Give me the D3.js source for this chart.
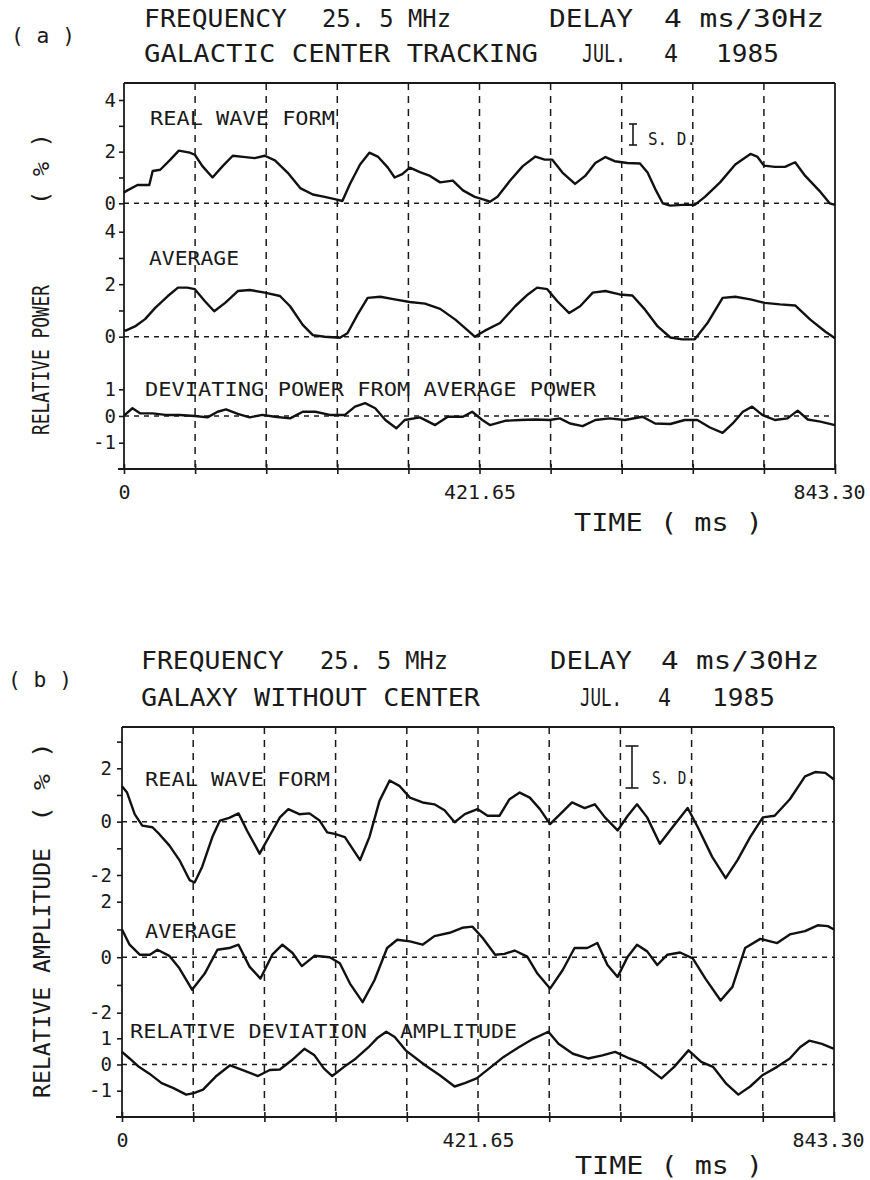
<!DOCTYPE html>
<html>
<head>
<meta charset="utf-8">
<script src="https://cdn.jsdelivr.net/npm/d3@7"></script>
<style>
  html, body { margin: 0; padding: 0; background: #fff; }
  svg { display: block; }
</style>
</head>
<body>
<svg id="chart" width="870" height="1180"></svg>
<script>
// ---------------------------------------------------------------
// Data: time in ms, values in %
// ---------------------------------------------------------------
const timeMaxMs = 843.30;
const timeDivisions = 10;
const timeTickLabels = ["0", "421.65", "843.30"];   // shown at divisions 0, 5, 10

// (a) Galactic center tracking — relative power (%)
const realPowerA = [[0,0.42],[4,0.5],[16,0.71],[30,0.71],[34,1.25],[43,1.3],[55,1.69],[65,2.04],[78,1.96],[84,1.88],[93,1.44],[105,1.0],[117,1.44],[129,1.84],[144,1.79],[155,1.75],[167,1.84],[179,1.66],[194,1.19],[209,0.59],[224,0.34],[238,0.25],[250,0.16],[259,0.09],[268,0.75],[280,1.5],[291,1.96],[301,1.81],[313,1.38],[321,1.0],[330,1.13],[339,1.38],[351,1.21],[363,1.06],[375,0.81],[390,0.88],[402,0.5],[416,0.25],[428,0.13],[434,0.06],[443,0.25],[458,0.88],[473,1.44],[488,1.81],[499,1.69],[508,1.69],[520,1.19],[535,0.75],[547,1.06],[559,1.56],[571,1.79],[582,1.63],[597,1.56],[612,1.54],[621,1.19],[630,0.56],[639,0.0],[648,-0.09],[662,-0.06],[677,-0.06],[689,0.25],[707,0.81],[725,1.5],[743,1.91],[751,1.81],[759,1.46],[772,1.41],[784,1.41],[796,1.59],[808,1.06],[826,0.44],[837,0.0],[843.3,-0.06]];
const averagePowerA = [[0,0.25],[2,0.23],[13,0.39],[25,0.67],[37,1.1],[52,1.55],[64,1.87],[75,1.87],[84,1.81],[96,1.35],[107,0.97],[120,1.29],[135,1.74],[149,1.78],[167,1.68],[185,1.55],[197,1.16],[212,0.45],[224,0.06],[238,0],[256,-0.04],[265,0.13],[277,0.84],[289,1.48],[304,1.52],[321,1.42],[339,1.32],[357,1.26],[375,1.06],[393,0.65],[407,0.26],[416,0],[428,0.23],[446,0.52],[464,1.16],[479,1.61],[490,1.87],[502,1.81],[514,1.35],[528,0.9],[541,1.16],[556,1.68],[571,1.74],[588,1.61],[603,1.57],[618,1.03],[633,0.39],[648,-0.03],[662,-0.1],[677,-0.1],[692,0.52],[710,1.48],[725,1.52],[743,1.42],[760,1.29],[778,1.23],[796,1.19],[814,0.65],[832,0.19],[843.3,-0.06]];
const deviationPowerA = [[0,0.02],[1,0.04],[10,0.29],[19,0.1],[34,0.1],[49,0.04],[66,0.04],[84,0],[99,-0.05],[111,0.16],[121,0.25],[135,0.08],[149,-0.05],[164,0.04],[179,-0.03],[197,-0.09],[212,0.16],[227,0.16],[244,0.04],[262,0.04],[274,0.35],[286,0.48],[298,0.29],[310,-0.15],[323,-0.46],[333,-0.15],[351,-0.05],[369,-0.34],[384,-0.03],[402,-0.03],[413,0.16],[425,-0.15],[434,-0.34],[452,-0.18],[470,-0.15],[488,-0.13],[505,-0.15],[517,-0.09],[529,-0.28],[544,-0.38],[559,-0.15],[576,-0.09],[594,-0.15],[615,-0.03],[630,-0.28],[648,-0.3],[665,-0.15],[680,-0.15],[695,-0.43],[710,-0.63],[722,-0.28],[734,0.16],[745,0.35],[757,0.04],[772,-0.15],[787,-0.09],[799,0.2],[811,-0.13],[826,-0.21],[843.3,-0.34]];

// (b) Galaxy without center — relative amplitude (%)
const realAmplitudeB = [[0,1.33],[6,1.09],[15,0.28],[24,-0.15],[36,-0.21],[44,-0.46],[56,-0.89],[68,-1.44],[80,-2.19],[86,-2.28],[95,-1.69],[107,-0.58],[116,0.04],[127,0.14],[138,0.31],[148,-0.33],[163,-1.2],[175,-0.52],[187,0.16],[197,0.47],[210,0.28],[222,0.31],[234,0.04],[243,-0.4],[252,-0.46],[264,-0.58],[282,-1.44],[293,-0.58],[305,0.78],[317,1.54],[329,1.33],[341,0.9],[356,0.72],[370,0.65],[382,0.43],[394,-0.02],[406,0.28],[421,0.47],[433,0.22],[447,0.22],[459,0.84],[471,1.09],[483,0.9],[495,0.47],[507,-0.09],[519,0.28],[533,0.72],[548,0.51],[560,0.65],[572,0.16],[587,-0.33],[599,0.22],[610,0.65],[622,0.16],[637,-0.83],[652,-0.21],[670,0.51],[682,-0.21],[699,-1.32],[715,-2.12],[729,-1.44],[744,-0.58],[759,0.16],[773,0.22],[791,0.84],[809,1.7],[821,1.86],[833,1.83],[843.3,1.58]];
const averageAmplitudeB = [[0,1.0],[9,0.45],[21,0.09],[33,0.09],[42,0.27],[56,0.05],[68,-0.4],[83,-1.17],[98,-0.59],[113,0.27],[127,0.33],[138,0.45],[151,-0.34],[164,-0.77],[178,0.09],[190,0.45],[202,0.15],[213,-0.32],[228,0.05],[246,0],[258,-0.22],[270,-0.95],[285,-1.62],[299,-0.83],[314,0.33],[326,0.63],[341,0.57],[356,0.45],[370,0.76],[388,0.88],[403,1.06],[415,1.1],[427,0.7],[442,0.09],[453,0.12],[465,0.24],[480,0.02],[492,-0.59],[507,-1.13],[522,-0.46],[536,0.33],[551,0.33],[563,0.51],[575,-0.28],[587,-0.71],[599,0.02],[610,0.45],[622,0.21],[634,-0.28],[646,0.09],[661,0.17],[676,-0.04],[691,-0.77],[709,-1.56],[723,-1.07],[738,0.33],[756,0.66],[776,0.51],[791,0.82],[809,0.94],[824,1.15],[836,1.12],[843.3,1.0]];
const deviationAmplitudeB = [[0,0.48],[9,0.23],[20,-0.09],[32,-0.34],[47,-0.71],[61,-0.9],[76,-1.15],[85,-1.09],[96,-0.96],[111,-0.46],[128,-0.03],[143,-0.21],[161,-0.44],[175,-0.21],[187,-0.19],[201,0.16],[216,0.6],[228,0.35],[239,-0.15],[249,-0.44],[263,-0.09],[277,0.23],[292,0.66],[302,1.0],[313,1.25],[323,1.05],[336,0.54],[359,-0.03],[376,-0.4],[394,-0.84],[406,-0.71],[420,-0.53],[435,-0.15],[452,0.29],[470,0.66],[487,0.98],[505,1.25],[517,0.79],[534,0.41],[552,0.23],[569,0.35],[584,0.48],[601,0.23],[616,0.04],[639,-0.53],[654,-0.09],[671,0.54],[686,0.1],[700,-0.09],[715,-0.71],[730,-1.15],[744,-0.84],[759,-0.4],[776,-0.09],[791,0.23],[803,0.66],[814,0.91],[829,0.79],[843.3,0.6]];

// ---------------------------------------------------------------
// Drawing
// ---------------------------------------------------------------
const FONT = "'DejaVu Sans Mono', 'Liberation Mono', monospace";
const INK = "#1a1a1a";
const svg = d3.select("#chart");
svg.append("rect").attr("width", 870).attr("height", 1180).attr("fill", "#fff");

const timeTicks = d3.range(timeDivisions + 1).map(i => i * timeMaxMs / timeDivisions);

// text helper: width fixed through textLength so the plotter lettering keeps its spread
function label(g, txt, x, y, size, len, opts = {}) {
  const t = g.append("text")
    .attr("x", x).attr("y", y)
    .attr("font-family", FONT)
    .attr("font-size", size)
    .attr("fill", INK)
    .attr("text-anchor", opts.anchor || "start")
    .text(txt);
  if (len) t.attr("textLength", len).attr("lengthAdjust", "spacingAndGlyphs");
  if (opts.rotate) t.attr("transform", `rotate(-90, ${x}, ${y})`);
  return t;
}

function drawPanel(p) {
  const g = svg.append("g");
  const x = d3.scaleLinear().domain([0, timeMaxMs]).range([p.left, p.right]);

  // vertical dashed grid at the interior time divisions
  g.append("g").selectAll("line")
    .data(timeTicks.slice(1, -1))
    .join("line")
    .attr("x1", d => x(d)).attr("x2", d => x(d))
    .attr("y1", p.top).attr("y2", p.axisY)
    .attr("stroke", INK).attr("stroke-width", 1.5)
    .attr("stroke-dasharray", "7,6");

  // frame
  const frame = g.append("g").attr("stroke", INK).attr("stroke-width", 1.8).attr("fill", "none");
  frame.append("line").attr("x1", p.left).attr("x2", p.right).attr("y1", p.top).attr("y2", p.top);
  frame.append("line").attr("x1", p.right).attr("x2", p.right).attr("y1", p.top).attr("y2", p.axisY);
  frame.append("line").attr("x1", p.left).attr("x2", p.left).attr("y1", p.top).attr("y2", p.axisY);

  // stacked traces, each with its own zero and scale
  p.bands.forEach(b => {
    const y = d3.scaleLinear().domain(b.domain).range(b.range);

    g.append("line")
      .attr("x1", p.left).attr("x2", p.right)
      .attr("y1", y(0)).attr("y2", y(0))
      .attr("stroke", INK).attr("stroke-width", 1.5)
      .attr("stroke-dasharray", "5,5");

    const ax = g.append("g")
      .attr("transform", `translate(${p.left},0)`)
      .call(d3.axisLeft(y).tickValues(b.ticks).tickSize(5).tickPadding(p.labelPad)
        .tickFormat(v => b.labelled.includes(v) ? String(v) : ""));
    ax.select(".domain").remove();
    ax.attr("font-family", FONT).attr("font-size", 19).attr("color", INK);
    ax.selectAll(".tick line").attr("stroke-width", 1.6);

    g.append("path")
      .datum(b.series)
      .attr("fill", "none")
      .attr("stroke", "#111")
      .attr("stroke-width", 2.4)
      .attr("stroke-linejoin", "round")
      .attr("d", d3.line().x(d => x(d[0])).y(d => y(d[1])));
  });

  // time axis along the bottom
  const xa = g.append("g")
    .attr("transform", `translate(0,${p.axisY})`)
    .call(d3.axisBottom(x).tickValues(timeTicks).tickSize(5).tickPadding(11)
      .tickFormat((d, i) => i % 5 === 0 ? timeTickLabels[i / 5] : ""));
  xa.select(".domain").remove();
  xa.attr("font-family", FONT).attr("font-size", 20).attr("color", INK);
  xa.selectAll(".tick line").attr("y1", -5).attr("y2", 5).attr("stroke-width", 1.6);
  xa.selectAll(".tick text").filter((d, i) => i === timeDivisions).attr("dx", -6);
  g.append("line")
    .attr("x1", p.left - 6).attr("x2", p.right)
    .attr("y1", p.axisY).attr("y2", p.axisY)
    .attr("stroke", INK).attr("stroke-width", 1.8);

  return g;
}

// ---------- panel (a) ----------
const gA = drawPanel({
  left: 124, right: 835, top: 83, axisY: 469, labelPad: 3,
  bands: [
    { series: realPowerA,      domain: [0, 4],  range: [203.3, 100],   ticks: [0, 1, 2, 3, 4], labelled: [0, 2, 4] },
    { series: averagePowerA,   domain: [0, 4],  range: [336.7, 231.7], ticks: [0, 1, 2, 3, 4], labelled: [0, 2, 4] },
    { series: deviationPowerA, domain: [-1, 1], range: [442.7, 389.3], ticks: [-1, 0, 1],      labelled: [-1, 0, 1] }
  ]
});
label(gA, "( a )", 11, 43, 22, 64);
label(gA, "FREQUENCY", 144, 27, 25, 143);
label(gA, "25. 5 MHz", 322, 27, 25, 129);
label(gA, "DELAY", 549, 27, 25, 84);
label(gA, "4 ms/30Hz", 664, 27, 25, 160);
label(gA, "GALACTIC CENTER TRACKING", 144, 62, 25, 394);
label(gA, "JUL.", 582, 62, 25, 44);
label(gA, "4", 664, 62, 25, 14);
label(gA, "1985", 716, 62, 25, 63);
label(gA, "REAL WAVE FORM", 150, 125, 19, 185);
label(gA, "AVERAGE", 149, 265, 19, 90);
label(gA, "DEVIATING POWER FROM AVERAGE POWER", 145, 396, 19, 451);
label(gA, "S. D.", 648, 145, 18, 48);
label(gA, "RELATIVE POWER", 49, 435, 23, 150, { rotate: true });
label(gA, "(  %  )", 49, 205, 23, 72, { rotate: true });
label(gA, "TIME  ( ms )", 574, 531, 24, 189);

// ---------- panel (b) ----------
const gB = drawPanel({
  left: 122, right: 834, top: 727, axisY: 1117, labelPad: 5,
  bands: [
    { series: realAmplitudeB,      domain: [-2, 2], range: [875, 768.3],    ticks: [-2, -1, 0, 1, 2, 3], labelled: [-2, 0, 2] },
    { series: averageAmplitudeB,   domain: [-2, 2], range: [1012.7, 901.7], ticks: [-2, -1, 0, 1, 2],    labelled: [-2, 0, 2] },
    { series: deviationAmplitudeB, domain: [-1, 1], range: [1090.7, 1038.3], ticks: [-1, 0, 1],          labelled: [-1, 0, 1] }
  ]
});
label(gB, "( b )", 8, 687, 22, 64);
label(gB, "FREQUENCY", 141, 669, 25, 143);
label(gB, "25. 5 MHz", 320, 669, 25, 128);
label(gB, "DELAY", 550, 669, 25, 82);
label(gB, "4 ms/30Hz", 661, 669, 25, 158);
label(gB, "GALAXY WITHOUT CENTER", 141, 706, 25, 339);
label(gB, "JUL.", 580, 706, 25, 42);
label(gB, "4", 658, 706, 25, 13);
label(gB, "1985", 712, 706, 25, 63);
label(gB, "REAL WAVE FORM", 145, 786, 19, 185);
label(gB, "S. D.", 652, 784, 18, 43);
label(gB, "AVERAGE", 145, 938, 19, 92);
label(gB, "RELATIVE DEVIATION", 130, 1038, 19, 237);
label(gB, "AMPLITUDE", 400, 1038, 19, 117);
label(gB, "RELATIVE AMPLITUDE", 50, 1098, 23, 250, { rotate: true });
label(gB, "(  %  )", 50, 822, 23, 80, { rotate: true });
label(gB, "TIME  ( ms )", 575, 1174, 24, 188);

// standard-deviation bars
function sdBar(g, xPos, y1, y2, cap) {
  const s = g.append("g").attr("stroke", INK).attr("stroke-width", 1.6);
  s.append("line").attr("x1", xPos).attr("x2", xPos).attr("y1", y1).attr("y2", y2);
  s.append("line").attr("x1", xPos - cap / 2).attr("x2", xPos + cap / 2).attr("y1", y1).attr("y2", y1);
  s.append("line").attr("x1", xPos - cap / 2).attr("x2", xPos + cap / 2).attr("y1", y2).attr("y2", y2);
}
sdBar(gA, 633, 124, 145, 8);
sdBar(gB, 632, 746, 788, 13);
</script>
</body>
</html>
